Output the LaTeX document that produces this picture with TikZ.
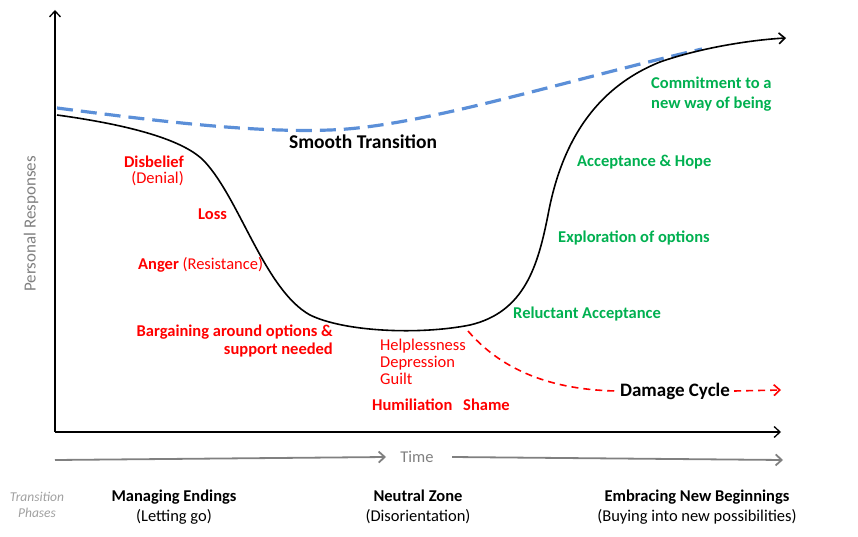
\documentclass[tikz,border=0pt]{standalone}
\usepackage{fontspec}
\setmainfont{Carlito}
\usetikzlibrary{arrows.meta,positioning}
\definecolor{lossred}{HTML}{FF0000}
\definecolor{hopegreen}{HTML}{00B050}
\definecolor{smoothblue}{HTML}{5B8FD8}
\definecolor{axisgray}{HTML}{808080}
\definecolor{phasegray}{HTML}{A0A0A0}
\tikzset{
  >={Straight Barb[length=6pt,width=11pt]},
  axis/.style = {->, line width=1.3pt},
  timeline/.style = {->, axisgray, line width=1.8pt},
  lowlbl/.style = {text=lossred, font=\fontsize{16.5}{18}\selectfont\bfseries, inner sep=0pt},
  lownote/.style = {text=lossred, font=\fontsize{16.5}{17}\selectfont, inner sep=0pt},
  uplbl/.style = {text=hopegreen, font=\fontsize{16.5}{20}\selectfont\bfseries, inner sep=0pt},
  phase/.style = {font=\fontsize{16.5}{20}\selectfont, align=center, inner sep=0pt},
}

\begin{document}
\begin{tikzpicture}[x=1pt, y=-1pt]
  \useasboundingbox (0,0) rectangle (858,537);
  % axes
  \coordinate (origin) at (55,432);
  \coordinate (ytop) at (55,10);
  \coordinate (xend) at (781,432);
  \draw[axis] (origin) -- (ytop);
  \draw[axis] (origin) -- (xend);
  \node[rotate=90, text=axisgray, font=\fontsize{17}{17}\selectfont] (ylabel) at (31,224) {Personal Responses};

  % time arrow
  \node[text=axisgray, font=\fontsize{16.5}{17}\selectfont, inner sep=0pt] (time) at (417,457) {Time};
  \coordinate (tstart) at (55,460);
  \coordinate (tend) at (783,460);
  \draw[timeline] (tstart) -- (time.west -| 386,460);
  \draw[timeline] (time.east -| 452,460) -- (tend);

  % smooth transition
  \draw[smoothblue, line width=3.2pt, dash pattern=on 16pt off 8pt]
    (57,108) .. controls (150,120) and (250,133) .. (330,130)
    .. controls (420,127) and (560,82) .. (702,49);
  \node[font=\fontsize{19.5}{20}\selectfont\bfseries, inner sep=0pt] (smooth) at (363,142) {Smooth Transition};

  % personal response curve
  \draw[->, line width=1.6pt]
    (57,115) .. controls (130,125) and (185,140) .. (205,162)
    .. controls (240,200) and (265,290) .. (310,315)
    .. controls (345,332) and (420,335) .. (470,325)
    .. controls (525,312) and (538,265) .. (548,215)
    .. controls (560,150) and (590,90) .. (660,62)
    .. controls (700,48) and (750,40) .. (786,38);

  % damage cycle
  \node[fill=white, font=\fontsize{19}{20}\selectfont\bfseries, inner sep=4pt] (damage) at (675,391) {Damage Cycle};
  \coordinate (dstart) at (468,331);
  \coordinate (dend) at (781,390);
  \draw[lossred, line width=1.6pt, dash pattern=on 7pt off 5pt]
    (dstart) .. controls (510,380) and (570,390) .. (damage.west);
  \draw[->, lossred, line width=1.6pt, dash pattern=on 7pt off 5pt] (damage.east) -- (dend);

  % downward labels
  \node[lowlbl, anchor=east] (disbelief) at (184,162) {Disbelief};
  \node[lownote, anchor=east] (denial) at (184,179) {(Denial)};
  \node[lowlbl, anchor=west] (loss) at (198,214) {Loss};
  \node[lowlbl, anchor=west] (anger) at (138,265) {Anger \mdseries(Resistance)};
  \node[lowlbl, anchor=east, align=right] (bargain) at (333,341) {Bargaining around options \&\\support needed};
  \node[lownote, anchor=west, align=left] (helpless) at (380,362) {Helplessness\\Depression\\Guilt};
  \node[lowlbl, anchor=west] (humil) at (372,405) {Humiliation};
  \node[lowlbl, anchor=west] (shame) at (463,405) {Shame};

  % upward labels
  \node[uplbl, anchor=west] (reluct) at (513,314) {Reluctant Acceptance};
  \node[uplbl, anchor=west] (explore) at (558,238) {Exploration of options};
  \node[uplbl, anchor=west] (accept) at (577,162) {Acceptance \& Hope};
  \node[uplbl, anchor=west, align=left] (commit) at (651,94) {Commitment to a\\new way of being};

  % transition phases
  \node[phase, text=phasegray, font=\fontsize{13.5}{16}\selectfont\itshape] (phases) at (37,505) {Transition\\Phases};
  \node[phase] (endings) at (174,507) {\bfseries Managing Endings\\(Letting go)};
  \node[phase] (neutral) at (418,507) {\bfseries Neutral Zone\\(Disorientation)};
  \node[phase] (beginnings) at (697,507) {\bfseries Embracing New Beginnings\\(Buying into new possibilities)};
\end{tikzpicture}
\end{document}
